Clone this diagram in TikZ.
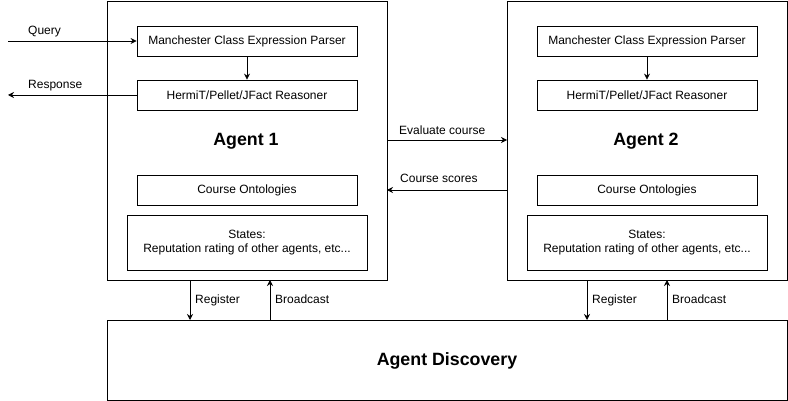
\documentclass[tikz,border=0pt]{standalone}
\usepackage{fontspec}
\setmainfont{Liberation Sans}
\usetikzlibrary{arrows.meta}
\begin{document}
\begin{tikzpicture}[x=1pt,y=-1pt,
  box/.style={draw=black,line width=0.8pt,fill=white},
  conn/.style={draw=black,line width=0.8pt,-{Stealth[length=6pt,width=6pt,inset=2pt]}},
  lbl/.style={font=\fontsize{12}{14}\selectfont,inner sep=0pt},
  big/.style={font=\fontsize{17.8}{21}\selectfont\bfseries,inner sep=0pt}]
\useasboundingbox (0,0) rectangle (788,401);
% Agent 1
\draw[box] (107,1) rectangle (387,280);
\node[big] (a1t) at (246,141) {Agent 1};
\node[box,minimum width=220pt,minimum height=30pt,inner sep=0pt,lbl] (p1) at (247,41) {Manchester Class Expression Parser};
\node[box,minimum width=220pt,minimum height=30pt,inner sep=0pt,lbl] (r1) at (247,95) {HermiT/Pellet/JFact Reasoner};
\node[box,minimum width=220pt,minimum height=30pt,inner sep=0pt,lbl] (o1) at (247,190) {Course Ontologies};
\node[box,minimum width=240pt,minimum height=55pt,inner sep=0pt,lbl,align=center] (s1) at (247,242.5) {States:\\[0pt]Reputation rating of other agents, etc...};
% Agent 2
\draw[box] (507,1) rectangle (787,280);
\node[big] (a2t) at (646,141) {Agent 2};
\node[box,minimum width=220pt,minimum height=30pt,inner sep=0pt,lbl] (p2) at (647,41) {Manchester Class Expression Parser};
\node[box,minimum width=220pt,minimum height=30pt,inner sep=0pt,lbl] (r2) at (647,95) {HermiT/Pellet/JFact Reasoner};
\node[box,minimum width=220pt,minimum height=30pt,inner sep=0pt,lbl] (o2) at (647,190) {Course Ontologies};
\node[box,minimum width=240pt,minimum height=55pt,inner sep=0pt,lbl,align=center] (s2) at (647,242.5) {States:\\[0pt]Reputation rating of other agents, etc...};
% Agent discovery
\node[box,minimum width=680pt,minimum height=80pt,inner sep=0pt] (ad) at (447,360) {};
\node[big] (adt) at (447,361) {Agent Discovery};
% coordinates
\coordinate (qin) at (8,41);
\coordinate (rout) at (8,95);
\coordinate (a1e) at (387,140);
\coordinate (a2e) at (507,140);
\coordinate (a1c) at (387,190);
\coordinate (a2c) at (507,190);
\coordinate (rg1a) at (190,280); \coordinate (rg1b) at (190,320);
\coordinate (bc1a) at (270,320); \coordinate (bc1b) at (270,280);
\coordinate (rg2a) at (587,280); \coordinate (rg2b) at (587,320);
\coordinate (bc2a) at (667,320); \coordinate (bc2b) at (667,280);
% connectors
\draw[conn] (qin) -- (p1.west);
\draw[conn] (r1.west) -- (rout);
\draw[conn] (p1.south) -- (r1.north);
\draw[conn] (p2.south) -- (r2.north);
\draw[conn] (a1e) -- (a2e);
\draw[conn] (a2c) -- (a1c);
\draw[conn] (rg1a) -- (rg1b);
\draw[conn] (bc1a) -- (bc1b);
\draw[conn] (rg2a) -- (rg2b);
\draw[conn] (bc2a) -- (bc2b);
% labels
\node[lbl,anchor=west] (lq) at (28,32) {Query};
\node[lbl,anchor=west] (lr) at (28,86) {Response};
\node[lbl,anchor=west] (le) at (399,130) {Evaluate course};
\node[lbl,anchor=west] (ls) at (400,178) {Course scores};
\node[lbl,anchor=west] (lrg1) at (195,300) {Register};
\node[lbl,anchor=west] (lbc1) at (275,299) {Broadcast};
\node[lbl,anchor=west] (lrg2) at (592,300) {Register};
\node[lbl,anchor=west] (lbc2) at (672,299) {Broadcast};
\end{tikzpicture}
\end{document}
